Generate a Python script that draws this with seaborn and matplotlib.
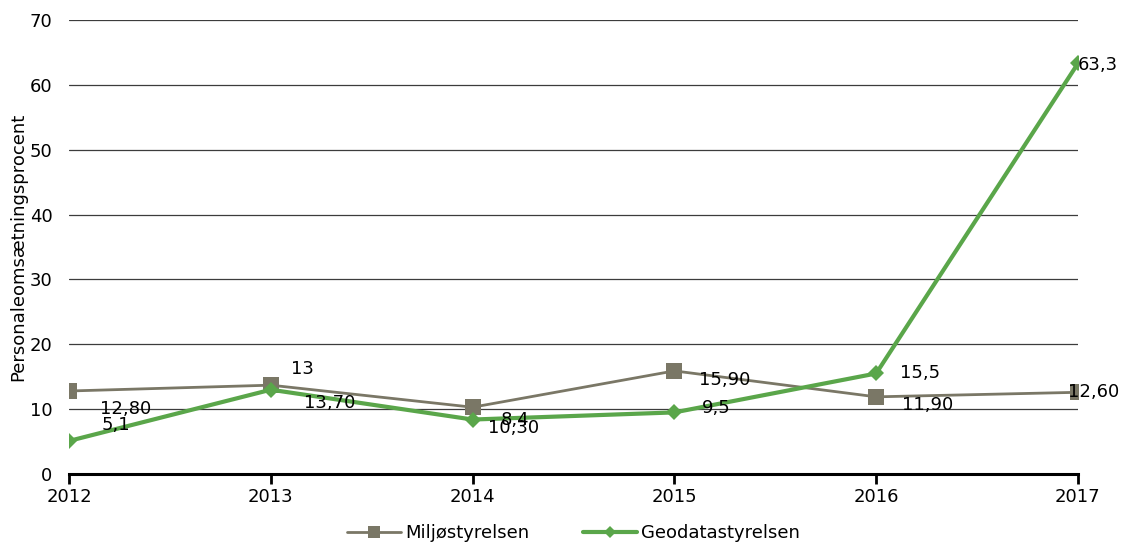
import matplotlib.pyplot as plt
import seaborn as sns
import pandas as pd

years = [2012, 2013, 2014, 2015, 2016, 2017]
miljo = [12.8, 13.7, 10.3, 15.9, 11.9, 12.6]
geo = [5.1, 13.0, 8.4, 9.5, 15.5, 63.3]
miljo_labels = ['12,80', '13,70', '10,30', '15,90', '11,90', '12,60']
geo_labels = ['5,1', '13', '8,4', '9,5', '15,5', '63,3']

# label offsets in pixels (dx right, dy down) relative to the point
miljo_off = [(57, 18), (59, 18), (41, 21), (50, 9), (51, 8), (16, 0)]
geo_off = [(47, -16), (32, -21), (42, 0), (42, -4), (44, 0), (20, 2)]

sns.set_style('white')
plt.rcParams['font.family'] = ['DejaVu Sans']
plt.rcParams['text.color'] = 'black'
plt.rcParams['xtick.color'] = 'black'
plt.rcParams['ytick.color'] = 'black'
plt.rcParams['axes.labelcolor'] = 'black'

df = pd.DataFrame({'year': years, 'Miljøstyrelsen': miljo, 'Geodatastyrelsen': geo})

fig, ax = plt.subplots(1, 1, figsize=(11.24, 5.51), dpi=100)
fig.subplots_adjust(left=0.0614, right=0.959, top=0.9637, bottom=0.1397)

for y in range(10, 80, 10):
    ax.axhline(y, color='#3c3c3c', linewidth=0.9, zorder=0)

sns.lineplot(data=df, x='year', y='Miljøstyrelsen', ax=ax, color='#7a7766',
             linewidth=2, marker='s', markersize=11, markeredgewidth=0,
             label='Miljøstyrelsen', zorder=3)
sns.lineplot(data=df, x='year', y='Geodatastyrelsen', ax=ax, color='#5aa64a',
             linewidth=3, marker='D', markersize=8, markeredgewidth=0,
             label='Geodatastyrelsen', zorder=4)

pt = 72 / 100
for x, v, lab, (dx, dy) in zip(years, miljo, miljo_labels, miljo_off):
    ax.annotate(lab, (x, v), xytext=(dx * pt, -dy * pt), textcoords='offset points',
                ha='center', va='center', fontsize=13, color='black', zorder=5,
                annotation_clip=False)
for x, v, lab, (dx, dy) in zip(years, geo, geo_labels, geo_off):
    ax.annotate(lab, (x, v), xytext=(dx * pt, -dy * pt), textcoords='offset points',
                ha='center', va='center', fontsize=13, color='black', zorder=5,
                annotation_clip=False)

ax.set_xlim(2012, 2017)
ax.set_ylim(0, 70)
ax.set_xticks(years)
ax.set_yticks(range(0, 80, 10))
ax.set_xlabel('')
ax.set_ylabel('Personaleomsætningsprocent', fontsize=13, labelpad=2)
ax.tick_params(axis='y', length=0, labelsize=13, pad=12)
ax.tick_params(axis='x', direction='out', length=7, width=2, color='black',
               labelsize=13, pad=3, bottom=True)
for s in ['top', 'right', 'left']:
    ax.spines[s].set_visible(False)
ax.spines['bottom'].set_color('black')
ax.spines['bottom'].set_linewidth(2.2)

ax.legend(loc='upper center', bbox_to_anchor=(0.5, -0.075), ncol=2, frameon=False,
          fontsize=13, handlelength=3.0, columnspacing=3.0, handletextpad=0.2,
          markerscale=0.8)

plt.savefig('out.png', dpi=100)
